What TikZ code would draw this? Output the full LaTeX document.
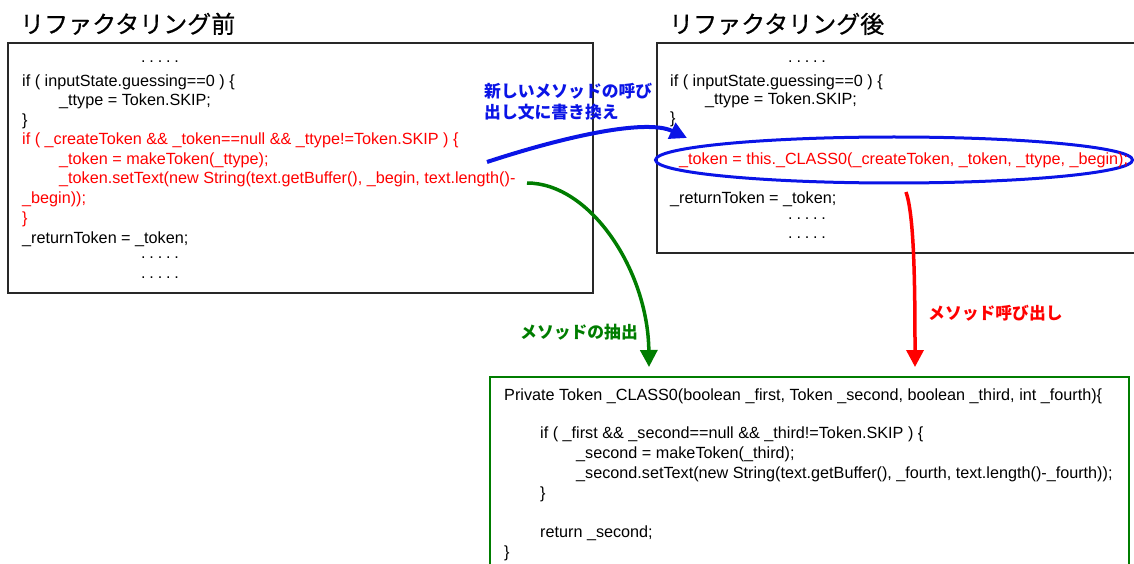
\documentclass[tikz,border=0pt]{standalone}
\usepackage{fontspec}
\setmainfont{Liberation Sans}
\newfontfamily\jpfont{Noto Sans CJK JP}
\newfontfamily\jptitle[FakeBold=0.6]{Noto Sans CJK JP}
\usetikzlibrary{arrows.meta,shapes.geometric}

\definecolor{framegray}{RGB}{40,40,40}
\definecolor{callblue}{RGB}{10,20,230}
\definecolor{extgreen}{RGB}{0,125,0}
\definecolor{callred}{RGB}{255,0,0}

% elided code: five spaced dots
\newcommand{\elided}{.\hspace{3.8pt}.\hspace{3.8pt}.\hspace{3.8pt}.\hspace{3.8pt}.}

\begin{document}
\begin{tikzpicture}[x=1pt,y=-1pt,
  panel/.style={draw=framegray,line width=2.6pt},
  newpanel/.style={draw=extgreen,line width=2.6pt},
  code/.style={anchor=base west,inner sep=0pt,font=\fontsize{16.2}{19}\selectfont},
  hot/.style={code,text=callred},
  title/.style={anchor=base west,inner sep=0pt,font=\jptitle\fontsize{24}{28}\selectfont},
  note/.style={inner sep=0pt,font=\jpfont\bfseries\fontsize{16.8}{20}\selectfont},
  tip/.style={-{Triangle[length=17pt,width=17pt]}}
]
\useasboundingbox (0,0) rectangle (1134,564);

% titles
\node[title] (tbefore) at (20,33) {リファクタリング前};
\node[title] (tafter) at (669,33) {リファクタリング後};

% frames
\draw[panel] (8,43) rectangle (593,293);
\draw[panel] (657,43) rectangle (1142,253);
\draw[newpanel] (490,377) rectangle (1129,575);

% original code
\node[code] (l1) at (141,63) {\elided};
\node[code] (l2) at (22,87) {if ( inputState.guessing==0 ) \{};
\node[code] (l3) at (59,106) {\_ttype = Token.SKIP;};
\node[code] (l4) at (22,126) {\}};
\node[hot] (l5) at (22,145) {if ( \_createToken \&\& \_token==null \&\& \_ttype!=Token.SKIP ) \{};
\node[hot] (l6) at (59,165) {\_token = makeToken(\_ttype);};
\node[hot] (l7) at (59,184) {\_token.setText(new String(text.getBuffer(), \_begin, text.length()-};
\node[hot] (l8) at (22,204) {\_begin));};
\node[hot] (l9) at (22,223) {\}};
\node[code] (l10) at (22,243) {\_returnToken = \_token;};
\node[code] (l11) at (141,258) {\elided};
\node[code] (l12) at (141,278) {\elided};

% refactored code
\node[code] (r1) at (788,63) {\elided};
\node[code] (r2) at (670,87) {if ( inputState.guessing==0 ) \{};
\node[code] (r3) at (705,105) {\_ttype = Token.SKIP;};
\node[code] (r4) at (670,124) {\}};
\node[draw=callblue,line width=3pt,ellipse,minimum width=477pt,minimum height=46pt,inner sep=0pt] (callout) at (894,160) {};
\node[hot] (r5) at (679,165) {\_token = this.\_CLASS0(\_createToken, \_token, \_ttype, \_begin);};
\node[code] (r6) at (670,204) {\_returnToken = \_token;};
\node[code] (r7) at (788,219) {\elided};
\node[code] (r8) at (788,238) {\elided};

% extracted method
\node[code] (m1) at (504,400) {Private Token \_CLASS0(boolean \_first, Token \_second, boolean \_third, int \_fourth)\{};
\node[code] (m2) at (540,438) {if ( \_first \&\& \_second==null \&\& \_third!=Token.SKIP ) \{};
\node[code] (m3) at (576,458) {\_second = makeToken(\_third);};
\node[code] (m4) at (576,478) {\_second.setText(new String(text.getBuffer(), \_fourth, text.length()-\_fourth));};
\node[code] (m5) at (540,498) {\}};
\node[code] (m6) at (540,537) {return \_second;};
\node[code] (m7) at (504,557) {\}};

% connector ends
\coordinate (bs) at (487,162);
\coordinate (bt) at (687,138);
\coordinate (gs) at (527,183);
\coordinate (gt) at (649,367);
\coordinate (rs) at (906,192);
\coordinate (rt) at (915,367);

% rewrite the call site
\draw[tip,callblue,line width=4pt] (bs) .. controls (560,138) and (645,118) .. (bt);
\node[note,text=callblue,anchor=base west] (blbl1) at (484,98) {新しいメソッドの呼び};
\node[note,text=callblue,anchor=base west] (blbl2) at (484,119) {出し文に書き換え};

% extract method
\draw[tip,extgreen,line width=3.5pt] (gs) .. controls (590,183) and (648,270) .. (gt);
\node[note,text=extgreen,anchor=west] (glbl) at (520,332) {メソッドの抽出};

% method call
\draw[tip,callred,line width=3.5pt] (rs) .. controls (914,215) and (915,280) .. (rt);
\node[note,text=callred,anchor=west] (rlbl) at (928,313) {メソッド呼び出し};
\end{tikzpicture}
\end{document}
